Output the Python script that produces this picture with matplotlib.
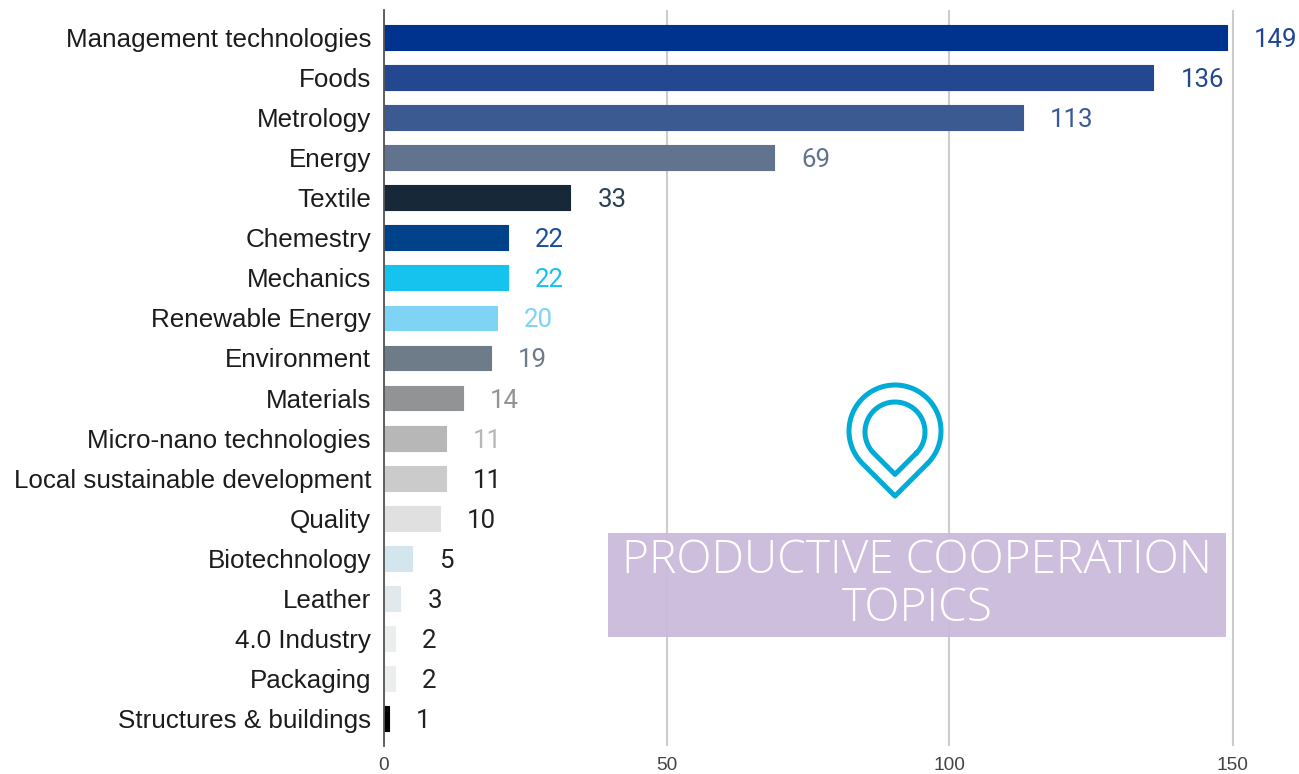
import numpy as np
import matplotlib.pyplot as plt
from matplotlib.patches import Rectangle

topics = ["Management technologies", "Foods", "Metrology", "Energy", "Textile", "Chemestry",
          "Mechanics", "Renewable Energy", "Environment", "Materials", "Micro-nano technologies",
          "Local sustainable development", "Quality", "Biotechnology", "Leather", "4.0 Industry",
          "Packaging", "Structures & buildings"]
counts = [149, 136, 113, 69, 33, 22, 22, 20, 19, 14, 11, 11, 10, 5, 3, 2, 2, 1]
bar_colors = ["#00338d", "#24488f", "#3c5a92", "#62738f", "#172839", "#004289",
              "#16c2ee", "#7fd3f5", "#6e7b88", "#929395", "#b7b7b7", "#cbcbcb",
              "#e0e0e0", "#d3e6ed", "#e1e9ec", "#eceeee", "#eceeee", "#000000"]
label_colors = ["#1f4596", "#24488f", "#3c5a92", "#62738f", "#2b3f52", "#1b4f9c",
                "#16c2ee", "#7fd3f5", "#6e7b88", "#929395", "#b7b7b7", "#222222",
                "#222222", "#222222", "#222222", "#222222", "#222222", "#222222"]
x_ticks = [0, 50, 100, 150]
title_lines = ["PRODUCTIVE COOPERATION", "TOPICS"]

W, H = 1299, 774
fig = plt.figure(figsize=(W / 100, H / 100), dpi=100)

# axes box in pixels: x=0 at 383.5, 5.66px per unit, rows 40.06px apart
ax = fig.add_axes([383.5 / W, (H - 746) / H, (W - 383.5) / W, (746 - 10) / H])
ax.set_xlim(0, (W - 383.5) / 5.66)
ax.set_ylim((746 - 37.5) / 40.06, (10 - 37.5) / 40.06)

y = np.arange(len(topics))
ax.barh(y, counts, height=0.62, color=bar_colors, edgecolor=bar_colors, linewidth=0.8,
        joinstyle='round', zorder=3)
for i in range(len(topics)):
    ax.annotate(str(counts[i]), (counts[i], i), xytext=(19.5, 0), textcoords='offset points',
                va='center_baseline', ha='left', fontsize=18.6, color=label_colors[i],
                family='Roboto', zorder=4)

ax.set_yticks(y, topics, fontsize=18.7, family='Liberation Sans', color='#1c1c1c')
ax.set_xticks(x_ticks, [str(t) for t in x_ticks], fontsize=13.8, family='Liberation Sans', color='#444444')
ax.tick_params(axis='y', length=0, pad=9)
ax.tick_params(axis='x', length=0, pad=8)
ax.grid(axis='x', color='#cccccc', linewidth=1.5, zorder=0)
ax.set_axisbelow(True)
for s in ['top', 'right', 'bottom']:
    ax.spines[s].set_visible(False)
ax.spines['left'].set_color('#555555')
ax.spines['left'].set_linewidth(1.3)
ax.spines['left'].set_zorder(5)

# overlay in pixel coords for the title box and pin icon
ov = fig.add_axes([0, 0, 1, 1])
ov.set_xlim(0, W)
ov.set_ylim(H, 0)
ov.axis('off')
ov.patch.set_alpha(0)
ov.add_patch(Rectangle((608, 533), 618, 104, facecolor='#cbbbdc', alpha=0.95, edgecolor='none'))
ov.text(917, 561, title_lines[0], ha='center', va='center', color='white', fontsize=33.2,
        family='Open Sans', fontweight='light')
ov.text(917, 609, title_lines[1], ha='center', va='center', color='white', fontsize=33.2,
        family='Open Sans', fontweight='light')


def pin(cx, cy, r):
    a = np.radians(np.linspace(-45, 225, 80))
    px = cx + r * np.cos(a)
    py = cy - r * np.sin(a)
    px = np.append(px, [cx, px[0]])
    py = np.append(py, [cy + r * np.sqrt(2), py[0]])
    ov.plot(px, py, color='#00acd6', linewidth=3.6, solid_joinstyle='round', solid_capstyle='round')


pin(895, 431, 46)
pin(895, 432, 30)

fig.savefig("out.png", dpi=100)
